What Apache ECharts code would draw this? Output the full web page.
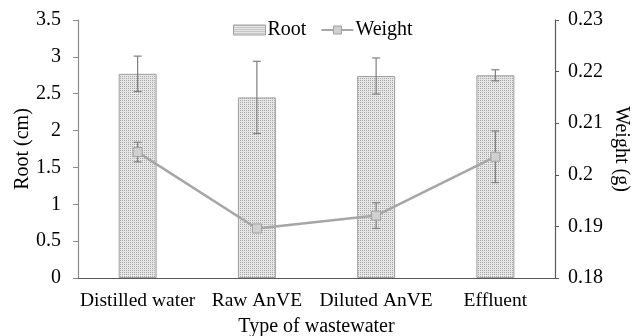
<!DOCTYPE html>
<html>
<head>
<meta charset="utf-8">
<script src="https://cdn.jsdelivr.net/npm/echarts@6/dist/echarts.min.js"></script>
<style>
  html, body { margin: 0; padding: 0; background: #fff; }
  #chart { width: 638px; height: 336px; }
</style>
</head>
<body>
<div id="chart"></div>
<script>
// Wastewater types and measured means with standard deviations
const categories = ['Distilled water', 'Raw AnVE', 'Diluted AnVE', 'Effluent'];
const rootMean = [2.77, 2.45, 2.74, 2.75];
const rootErr = [0.24, 0.49, 0.245, 0.075];
const weightMean = [0.2044, 0.1896, 0.1921, 0.2035];
const weightErr = [0.0019, 0.0003, 0.0025, 0.005];

const FONT = 'Liberation Serif';

// Fine dotted fill for the bars
function dotPattern() {
  const c = document.createElement('canvas');
  c.width = 2; c.height = 2;
  const ctx = c.getContext('2d');
  ctx.fillStyle = '#e6e6e6';
  ctx.fillRect(0, 0, 2, 2);
  ctx.fillStyle = '#a8a8a8';
  ctx.fillRect(0, 0, 1, 1);
  return c;
}

function errorSeries(name, mean, err, axisIndex, z) {
  return {
    type: 'custom',
    name: name,
    yAxisIndex: axisIndex,
    z: z,
    silent: true,
    data: mean.map((m, i) => [i, m - err[i], m + err[i]]),
    renderItem: function (params, api) {
      const lo = api.coord([api.value(0), api.value(1)]);
      const hi = api.coord([api.value(0), api.value(2)]);
      const half = 4;
      const style = { stroke: '#7f7f7f', lineWidth: 1.2 };
      return {
        type: 'group',
        children: [
          { type: 'line', shape: { x1: lo[0], y1: lo[1], x2: hi[0], y2: hi[1] }, style },
          { type: 'line', shape: { x1: hi[0] - half, y1: hi[1], x2: hi[0] + half, y2: hi[1] }, style },
          { type: 'line', shape: { x1: lo[0] - half, y1: lo[1], x2: lo[0] + half, y2: lo[1] }, style }
        ]
      };
    }
  };
}

const chart = echarts.init(document.getElementById('chart'), null, { renderer: 'canvas' });
const textBase = { fontFamily: FONT, fontSize: 20, color: '#000' };

chart.setOption({
  animation: false,
  textStyle: { fontFamily: FONT },
  grid: { left: 78, right: 83, top: 20, bottom: 58, containLabel: false, outerBoundsMode: 'none' },
  legend: {
    data: [
      {
        name: 'Root',
        icon: 'rect',
        itemStyle: { color: { image: dotPattern(), repeat: 'repeat' }, borderColor: '#a0a0a0', borderWidth: 1 }
      },
      {
        name: 'Weight',
        itemStyle: { color: '#d0d0d0', borderColor: '#a0a0a0', borderWidth: 1 }
      }
    ],
    left: 228,
    top: 15,
    itemWidth: 32,
    itemHeight: 10,
    itemGap: 14,
    textStyle: Object.assign({}, textBase, { padding: [0, 0, 0, -3] })
  },
  xAxis: {
    type: 'category',
    data: categories,
    name: 'Type of wastewater',
    nameLocation: 'middle',
    nameGap: 39,
    nameMoveOverlap: false,
    nameTextStyle: textBase,
    axisLine: { lineStyle: { color: '#595959', width: 1.2 } },
    axisTick: { show: false },
    axisLabel: Object.assign({ margin: 13, interval: 0 }, textBase, { fontSize: 19.5 })
  },
  yAxis: [
    {
      type: 'value',
      min: 0, max: 3.5, interval: 0.5,
      name: 'Root (cm)',
      nameLocation: 'middle',
      nameGap: 45,
      nameMoveOverlap: false,
      nameTextStyle: textBase,
      splitLine: { show: false },
      axisLine: { show: true, lineStyle: { color: '#8c8c8c', width: 1.2 } },
      axisTick: { show: true, length: 5, lineStyle: { color: '#8c8c8c' } },
      axisLabel: Object.assign({ margin: 17, formatter: v => String(v) }, textBase)
    },
    {
      type: 'value',
      min: 0.18, max: 0.23, interval: 0.01,
      name: 'Weight (g)',
      nameLocation: 'middle',
      nameGap: 56,
      nameRotate: -90,
      nameMoveOverlap: false,
      nameTextStyle: textBase,
      splitLine: { show: false },
      axisLine: { show: true, lineStyle: { color: '#595959', width: 1.2 } },
      axisTick: { show: true, length: 4, lineStyle: { color: '#595959' } },
      axisLabel: Object.assign({ margin: 13, formatter: v => String(Math.round(v * 100) / 100) }, textBase)
    }
  ],
  series: [
    {
      name: 'Root',
      type: 'bar',
      yAxisIndex: 0,
      barWidth: 38,
      data: rootMean,
      itemStyle: {
        color: { image: dotPattern(), repeat: 'repeat' },
        borderColor: '#a0a0a0',
        borderWidth: 1
      }
    },
    errorSeries('RootErr', rootMean, rootErr, 0, 3),
    // weight error bars sit beneath the line markers
    errorSeries('WeightErr', weightMean, weightErr, 1, 3),
    {
      name: 'Weight',
      type: 'line',
      yAxisIndex: 1,
      z: 4,
      data: weightMean,
      symbol: 'rect',
      symbolSize: 9,
      lineStyle: { color: '#a6a6a6', width: 2.5 },
      itemStyle: { color: '#d0d0d0', borderColor: '#a0a0a0', borderWidth: 1 }
    }
  ]
});
</script>
</body>
</html>
